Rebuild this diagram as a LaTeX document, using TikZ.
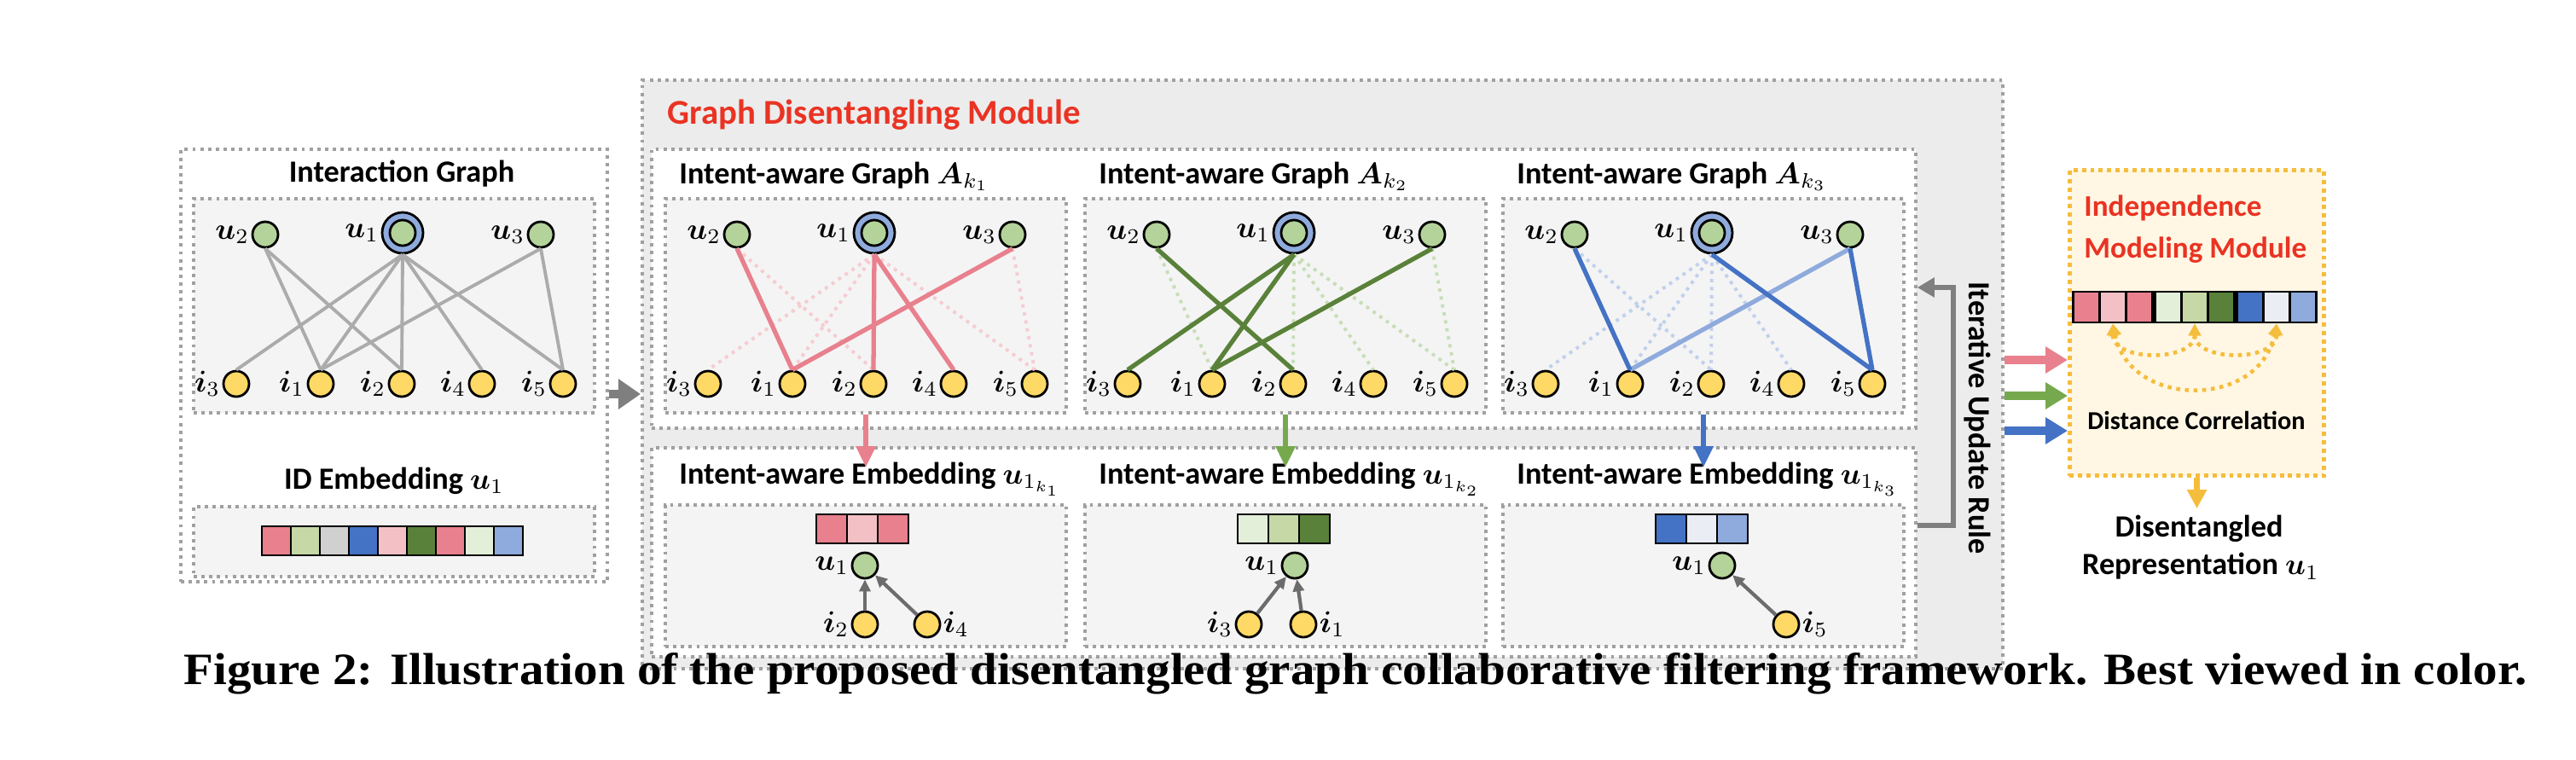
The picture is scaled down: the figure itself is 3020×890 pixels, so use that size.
\documentclass[tikz,border=0pt]{standalone}
\usepackage{amsmath}
\usepackage{amssymb}
\usepackage{fontspec}
\setmainfont{Carlito}
\newfontfamily\capfont{Liberation Serif}
\usepackage{xcolor}
\usepackage{graphicx}
\usepackage{tikz}
\usetikzlibrary{positioning,calc,arrows.meta}

\definecolor{usrc}{HTML}{B4D39A}
\definecolor{itmc}{HTML}{FFD966}
\definecolor{ringc}{HTML}{8FAADC}
\definecolor{pinkc}{HTML}{E8808D}
\definecolor{pinkl}{HTML}{F3C1C5}
\definecolor{greend}{HTML}{5A8139}
\definecolor{greenm}{HTML}{C5D8A6}
\definecolor{greenl}{HTML}{E3EFD9}
\definecolor{greena}{HTML}{76A94E}
\definecolor{blued}{HTML}{4472C4}
\definecolor{bluel}{HTML}{8FAADC}
\definecolor{grayl}{HTML}{EAEDF3}
\definecolor{grayc}{HTML}{D0D0D0}
\definecolor{edgeg}{HTML}{ABABAB}
\definecolor{dotg}{HTML}{A0A0A0}
\definecolor{boxg}{HTML}{F4F4F4}
\definecolor{modg}{HTML}{ECECEC}
\definecolor{redt}{HTML}{EA3323}
\definecolor{yelb}{HTML}{F5BD3C}
\definecolor{yelf}{HTML}{FFF7E4}
\definecolor{arrg}{HTML}{7F7F7F}

\tikzset{
  dotbox/.style={draw=dotg, line width=1.1pt, dash pattern=on 1.1pt off 1.5pt, anchor=north west, inner sep=0pt},
  usr/.style={circle, draw, line width=0.8pt, fill=usrc, minimum size=0.30cm, inner sep=0pt},
  itm/.style={circle, draw, line width=0.8pt, fill=itmc, minimum size=0.30cm, inner sep=0pt},
  ring/.style={circle, draw, line width=0.8pt, fill=ringc, minimum size=0.48cm, inner sep=0pt,
    path picture={\draw[line width=0.8pt, fill=usrc] (path picture bounding box.center) circle (0.15cm);}},
  lbl/.style={inner sep=0.5pt},
  grayedge/.style={draw=edgeg, line width=1.1pt},
  soft/.style={line width=1.1pt, dash pattern=on 1.1pt off 1.6pt},
  hard/.style={line width=1.5pt},
  cell/.style={draw, line width=0.8pt, inner sep=0pt},
  downarr/.style={line width=1.8pt, -{Triangle[length=0.25cm, width=0.22cm]}},
  rarr/.style={line width=2.8pt, -{Triangle[length=0.26cm, width=0.30cm]}},
  bigarr/.style={line width=3pt, draw=arrg, -{Triangle[length=0.26cm, width=0.34cm]}},
  iterarr/.style={line width=1.8pt, draw=arrg, -{Triangle[length=0.2cm, width=0.22cm]}},
  embarr/.style={line width=1.2pt, draw=arrg!85!black, -{Triangle[length=0.14cm, width=0.13cm]}},
  yarr/.style={line width=2pt, draw=yelb, -{Triangle[length=0.22cm, width=0.22cm]}},
  arcarr/.style={draw=yelb, line width=1.3pt, dash pattern=on 1.3pt off 1.6pt,
    {Triangle[length=0.14cm, width=0.14cm]}-{Triangle[length=0.14cm, width=0.14cm]}},
}

\begin{document}
\begin{tikzpicture}[x=0.01cm,y=-0.01cm,font=\fontsize{10.3}{12.4}\selectfont\bfseries]
  \useasboundingbox (0,0) rectangle (3020,890);

  % boxes
  \node[dotbox, fill=white, minimum width=5cm, minimum height=5.07cm] (leftmod) at (210,173) {};
  \node[dotbox, fill=boxg, minimum width=4.7cm, minimum height=2.51cm] (abox) at (225,231) {};
  \node[dotbox, fill=boxg, minimum width=4.7cm, minimum height=0.82cm] (aembbox) at (225,592) {};
  \node[dotbox, fill=modg, minimum width=15.94cm, minimum height=6.9cm] (gdm) at (751,92) {};
  \node[dotbox, fill=white, minimum width=14.81cm, minimum height=3.27cm] (graphrow) at (762,173) {};
  \node[dotbox, fill=white, minimum width=14.81cm, minimum height=2.45cm] (embrow) at (762,523) {};
  \foreach \p/\lx in {b/778,c/1270,d/1760} {
    \node[dotbox, fill=boxg, minimum width=4.7cm, minimum height=2.51cm] (\p box) at (\lx,231) {};
    \node[dotbox, fill=boxg, minimum width=4.7cm, minimum height=1.66cm] (\p embbox) at (\lx,590) {};
  }
  \node[dotbox, draw=yelb, line width=1.4pt, dash pattern=on 1.4pt off 1.4pt, fill=yelf,
    minimum width=2.98cm, minimum height=3.58cm] (indep) at (2424,197) {};

  % titles
  \node[anchor=base] (igtitle) at (471,213) {Interaction Graph};
  \node[anchor=base] (idtitle) at (462,573) {ID Embedding $\boldsymbol{u}_1$};
  \node[anchor=base west, text=redt, font=\fontsize{11.6}{14}\selectfont\bfseries] (gdmtitle) at (770,145) {Graph Disentangling Module};
  \foreach \p/\lx/\k in {b/778/1,c/1270/2,d/1760/3} {
    \node[anchor=base west] (\p title) at (\lx+6,215) {Intent-aware Graph $\boldsymbol{A}_{k_\k}$};
    \node[anchor=base west] (\p embtitle) at (\lx+6,567) {Intent-aware Embedding $\boldsymbol{u}_{1_{k_\k}}$};
  }
  \node[anchor=base west, text=redt, font=\fontsize{10}{12}\selectfont\bfseries] (imt1) at (2431,253) {Independence};
  \node[anchor=base west, text=redt, font=\fontsize{10}{12}\selectfont\bfseries] (imt2) at (2431,302) {Modeling Module};
  \node[font=\fontsize{8.6}{11}\selectfont\bfseries] (dcor) at (2575,493) {Distance Correlation};
  \node (dis1) at (2578,620) {Disentangled};
  \node (dis2) at (2580,664) {Representation $\boldsymbol{u}_1$};
  \node[rotate=-90] (iter) at (2318,490) {Iterative Update Rule};

  % graph nodes
  \foreach \p/\lx in {a/225,b/778,c/1270,d/1760} {
    \node[usr, label={[lbl]left:$\boldsymbol{u}_2$}] (\p u2) at (\lx+86,275) {};
    \node[ring, label={[lbl]left:$\boldsymbol{u}_1$}] (\p u1) at (\lx+247,273) {};
    \node[usr, label={[lbl]left:$\boldsymbol{u}_3$}] (\p u3) at (\lx+409,275) {};
    \foreach \n/\dx in {3/52,1/151,2/246,4/340,5/435}
      \node[itm, label={[lbl]left:$\boldsymbol{i}_\n$}] (\p i\n) at (\lx+\dx,450) {};
  }

  % interaction graph
  \foreach \src/\dst in {u2/i1,u2/i2,u1/i3,u1/i1,u1/i2,u1/i4,u1/i5,u3/i1,u3/i5}
    \draw[grayedge] (a\src.south) -- (a\dst.north);

  % intent k1
  \foreach \src/\dst in {u2/i2,u1/i3,u1/i1,u1/i5,u3/i5}
    \draw[soft, pinkc!40] (b\src.south) -- (b\dst.north);
  \foreach \src/\dst in {u2/i1,u1/i2,u1/i4,u3/i1}
    \draw[hard, pinkc] (b\src.south) -- (b\dst.north);

  % intent k2
  \foreach \src/\dst in {u2/i1,u1/i2,u1/i4,u1/i5,u3/i5}
    \draw[soft, greena!40] (c\src.south) -- (c\dst.north);
  \foreach \src/\dst in {u2/i2,u1/i3,u1/i1,u3/i1}
    \draw[hard, greend] (c\src.south) -- (c\dst.north);

  % intent k3
  \foreach \src/\dst in {u2/i2,u1/i3,u1/i1,u1/i2,u1/i4}
    \draw[soft, bluel!55] (d\src.south) -- (d\dst.north);
  \draw[hard, bluel] (du3.south) -- (di1.north);
  \foreach \src/\dst in {u2/i1,u1/i5,u3/i5}
    \draw[hard, blued] (d\src.south) -- (d\dst.north);

  % embedding bars
  \foreach \c [count=\k from 0] in {pinkc,greenm,grayc,blued,pinkl,greend,pinkc,greenl,bluel}
    \node[cell, fill=\c, minimum width=0.34cm, minimum height=0.34cm] (idc\k) at (324+34*\k,634) {};
  \foreach \p/\cx/\ca/\cb/\cc in {b/1011/pinkc/pinkl/pinkc, c/1505/greenl/greenm/greend, d/1995/blued/grayl/bluel} {
    \node[cell, fill=\ca, minimum width=0.36cm, minimum height=0.34cm] (\p c1) at (\cx-36,620) {};
    \node[cell, fill=\cb, minimum width=0.36cm, minimum height=0.34cm] (\p c2) at (\cx,620) {};
    \node[cell, fill=\cc, minimum width=0.36cm, minimum height=0.34cm] (\p c3) at (\cx+36,620) {};
  }
  \foreach \c/\xx [count=\k] in {pinkc/2446,pinkl/2477,pinkc/2508,greenl/2542,greenm/2573,greend/2604,blued/2638,grayl/2669,bluel/2700}
    \node[cell, fill=\c, minimum width=0.31cm, minimum height=0.36cm] (ic\k) at (\xx,360) {};

  % embedding graphs
  \node[usr, label={[lbl]left:$\boldsymbol{u}_1$}] (be1) at (1014,663) {};
  \node[itm, label={[lbl]left:$\boldsymbol{i}_2$}] (bi2e) at (1014,732) {};
  \node[itm, label={[lbl]right:$\boldsymbol{i}_4$}] (bi4e) at (1087,732) {};
  \draw[embarr] (bi2e) -- (be1);
  \draw[embarr] (bi4e) -- (be1);

  \node[usr, label={[lbl]left:$\boldsymbol{u}_1$}] (ce1) at (1518,663) {};
  \node[itm, label={[lbl]left:$\boldsymbol{i}_3$}] (ci3e) at (1464,732) {};
  \node[itm, label={[lbl]right:$\boldsymbol{i}_1$}] (ci1e) at (1528,732) {};
  \draw[embarr] (ci3e) -- (ce1);
  \draw[embarr] (ci1e) -- (ce1);

  \node[usr, label={[lbl]left:$\boldsymbol{u}_1$}] (de1) at (2019,663) {};
  \node[itm, label={[lbl]right:$\boldsymbol{i}_5$}] (di5e) at (2094,732) {};
  \draw[embarr] (di5e) -- (de1);

  % arrows
  \draw[bigarr] (leftmod.east |- 0,462) -- (gdm.west |- 0,462);
  \draw[downarr, pinkc] (bbox.south) -- ++(0,62);
  \draw[downarr, greena] (cbox.south) -- ++(0,62);
  \draw[downarr, blued] (dbox.south) -- ++(0,62);
  \draw[iterarr] (embrow.east |- 0,616) -| (2290,337) -- (graphrow.east |- 0,337);
  \draw[rarr, pinkc] (gdm.east |- 0,422) -- (indep.west |- 0,422);
  \draw[rarr, greena] (gdm.east |- 0,464) -- (indep.west |- 0,464);
  \draw[rarr, blued] (gdm.east |- 0,505) -- (indep.west |- 0,505);
  \draw[arcarr] (ic2.south) .. controls +(0,45) and +(0,45) .. (ic5.south);
  \draw[arcarr] (ic5.south) .. controls +(0,45) and +(0,45) .. (ic8.south);
  \draw[arcarr] (ic2.south) .. controls +(20,100) and +(-20,100) .. (ic8.south);
  \draw[yarr] (indep.south) -- ++(0,36);

  % caption
  \node[anchor=base] (caption) at (1589,802) {\resizebox{27.45cm}{0.37cm}{\capfont\bfseries Figure 2: Illustration of the proposed disentangled graph collaborative filtering framework. Best viewed in color.}};
\end{tikzpicture}
\end{document}
